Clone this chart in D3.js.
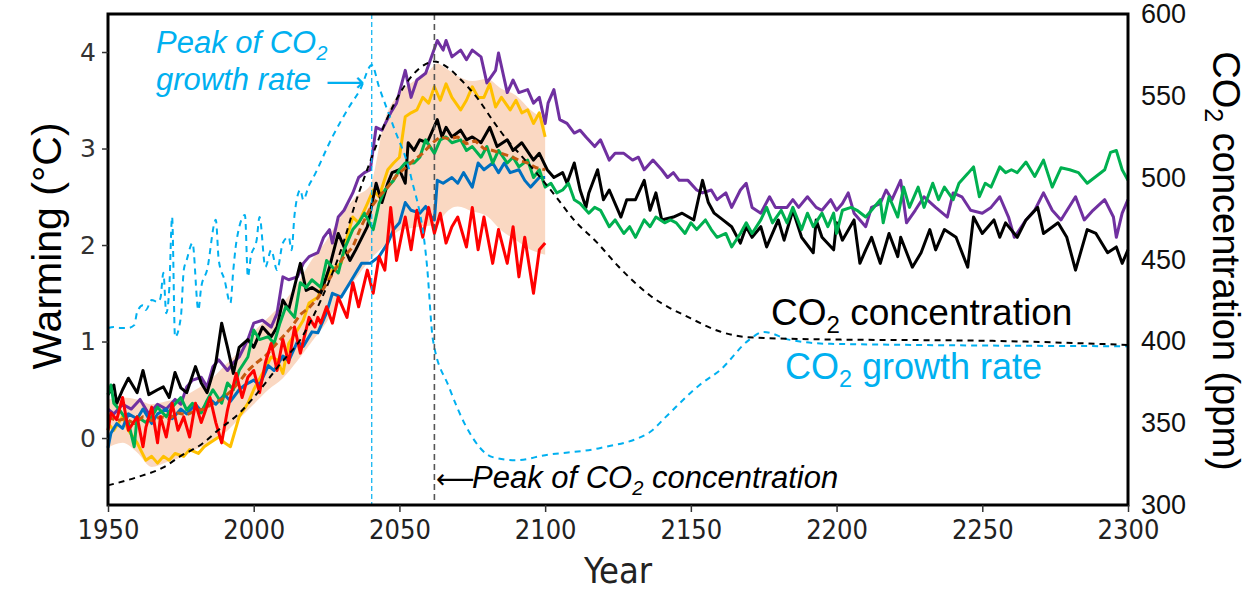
<!DOCTYPE html>
<html>
<head>
<meta charset="utf-8">
<script src="https://cdn.jsdelivr.net/npm/d3@7"></script>
<style>
  body { margin: 0; background: #fff; }
  svg { display: block; }
</style>
</head>
<body>
<svg id="chart" width="1249" height="593"></svg>
<script>
// ---- data: [year, value] ----
const blackSeries = [[1950,0.45],[1952,0.55],[1953,0.36],[1955,0.5],[1957,0.62],[1960,0.47],[1962,0.70],[1964,0.45],[1967,0.50],[1969,0.53],[1971,0.42],[1973,0.68],[1975,0.52],[1977,0.47],[1980,0.74],[1982,0.57],[1984,0.47],[1987,0.78],[1989,1.19],[1991,0.94],[1993,0.67],[1995,0.94],[1998,1.02],[2000,0.94],[2003,1.15],[2006,1.05],[2008,1.15],[2010,1.43],[2012,1.33],[2016,1.81],[2018,1.53],[2020,1.56],[2023,1.50],[2026,1.77],[2029,2.12],[2033,1.84],[2035,1.95],[2039,2.19],[2042,2.64],[2044,2.44],[2046,2.64],[2047.5,2.75],[2050,2.78],[2052,2.64],[2053,3.06],[2055,2.98],[2057,3.09],[2059.5,3.06],[2063,3.30],[2064.6,3.12],[2066,3.22],[2068,3.12],[2071,3.19],[2073,3.09],[2075,3.12],[2078,3.06],[2081,3.22],[2083.5,3.02],[2087,3.09],[2089,2.98],[2092,3.06],[2096,2.88],[2098,2.95],[2100.7,2.78],[2103,2.70],[2106,2.75],[2107.5,2.64],[2110,2.85],[2112,2.57],[2114,2.39],[2115,2.54],[2118,2.78],[2120,2.47],[2122,2.57],[2126,2.29],[2128,2.47],[2131,2.47],[2134,2.67],[2136,2.36],[2138,2.54],[2140,2.26],[2144,2.29],[2147,2.33],[2151,2.26],[2154,2.67],[2156,2.44],[2158,2.33],[2161,2.26],[2164,2.19],[2167,2.02],[2169,2.19],[2171,2.08],[2174,2.19],[2176,1.98],[2180,2.26],[2182,2.05],[2185,2.36],[2188,2.08],[2192,1.92],[2193,2.26],[2195,2.08],[2199,1.95],[2200,2.23],[2202,2.05],[2206,2.26],[2208,1.81],[2210,1.95],[2212,2.08],[2215,1.81],[2218,2.12],[2221,1.88],[2222,2.08],[2226,1.77],[2229,1.92],[2232,2.16],[2234,1.95],[2237,2.16],[2241,2.08],[2245,1.77],[2247,2.29],[2250,2.12],[2254,2.26],[2256,2.08],[2258,2.23],[2262,2.08],[2265,2.26],[2269,2.39],[2271,2.12],[2276,2.23],[2279,2.08],[2282,1.74],[2286,2.16],[2289,2.12],[2293,1.92],[2296,1.98],[2298,1.81],[2300,1.95]];

const purpleSeries = [[1950,0.30],[1952,0.25],[1955,0.35],[1958,0.30],[1961,0.40],[1964,0.25],[1967,0.35],[1970,0.30],[1973,0.40],[1975,0.35],[1977,0.53],[1979,0.60],[1982,0.63],[1984,0.53],[1986,0.74],[1988,0.81],[1991,0.70],[1993,0.78],[1995,0.84],[1998,1.02],[2000,1.19],[2003,1.22],[2006,1.15],[2008,1.29],[2010,1.67],[2012,1.64],[2015,1.67],[2017,1.81],[2019,1.88],[2022,1.92],[2024,2.08],[2026,2.16],[2027,2.02],[2029,2.29],[2031,2.36],[2034,2.54],[2036,2.70],[2038,2.75],[2040,2.78],[2042,3.22],[2044,3.19],[2047,3.37],[2049,3.47],[2052,3.81],[2054,3.53],[2056,3.71],[2059,3.78],[2061,3.95],[2063,4.12],[2065,4.02],[2066,4.12],[2068,3.95],[2071,4.02],[2073,3.92],[2075,4.02],[2078,3.95],[2080,3.68],[2083,3.81],[2084,3.99],[2087,3.58],[2089,3.71],[2091,3.58],[2094,3.61],[2096,3.47],[2098,3.53],[2100,3.26],[2101,3.47],[2103,3.61],[2105,3.30],[2107.5,3.26],[2110,3.16],[2112,3.19],[2114,3.12],[2117,3.02],[2119,3.09],[2122,2.88],[2124,2.95],[2127,2.95],[2130,2.88],[2132,2.91],[2134,2.78],[2137,2.88],[2140,2.78],[2142,2.70],[2144,2.75],[2146,2.67],[2149,2.67],[2152,2.57],[2154,2.54],[2157,2.57],[2159,2.47],[2162,2.54],[2164,2.39],[2167,2.57],[2169,2.64],[2171,2.39],[2174,2.33],[2177,2.50],[2179,2.39],[2183,2.39],[2185,2.47],[2187,2.39],[2190,2.50],[2193,2.39],[2195,2.36],[2198,2.47],[2200,2.36],[2202,2.43],[2204,2.54],[2206,2.33],[2210,2.19],[2212,2.39],[2215,2.43],[2217,2.57],[2219,2.47],[2222,2.67],[2224,2.23],[2227,2.36],[2230,2.50],[2234,2.39],[2238,2.29],[2240,2.54],[2243,2.50],[2246,2.36],[2250,2.33],[2253,2.39],[2256,2.50],[2259,2.29],[2261,2.08],[2265,2.26],[2268,2.36],[2271,2.54],[2274,2.36],[2277,2.26],[2282,2.50],[2285,2.26],[2288,2.36],[2292,2.47],[2295,2.29],[2296,2.08],[2298,2.33],[2300,2.47]];

const greenSeries = [[1950,0.45],[1951,0.55],[1952,0.36],[1954,0.29],[1957,0.16],[1959,-0.09],[1960,0.22],[1963,0.16],[1965,0.22],[1967,0.32],[1970,0.22],[1972,0.32],[1975,0.42],[1977,0.29],[1979,0.36],[1982,0.26],[1984,0.39],[1986,0.50],[1989,0.36],[1991,0.57],[1993,0.50],[1995,0.70],[1998,0.84],[2000,1.12],[2002,1.02],[2005,1.05],[2007,0.98],[2009,1.19],[2011,1.36],[2014,1.25],[2016,1.61],[2018,1.56],[2020,1.64],[2023,1.56],[2025,1.84],[2027,1.77],[2029,1.71],[2031,1.95],[2034,2.16],[2036,2.23],[2038,2.33],[2041,2.16],[2043,2.43],[2045,2.57],[2048,2.67],[2050,2.78],[2052,2.85],[2055,2.85],[2057,2.91],[2059,3.09],[2062,2.95],[2064,3.09],[2066,3.12],[2068,3.06],[2071,3.09],[2073,2.98],[2075,3.02],[2078,2.91],[2080,3.02],[2082,2.85],[2084,2.98],[2087,2.85],[2089,2.91],[2091,2.81],[2094,2.88],[2096,2.70],[2098,2.78],[2100,2.60],[2102,2.64],[2104,2.54],[2106,2.57],[2108,2.64],[2110,2.47],[2112,2.43],[2115,2.33],[2117,2.39],[2119,2.36],[2122,2.19],[2124,2.26],[2127,2.12],[2129,2.19],[2131,2.08],[2134,2.26],[2136,2.19],[2138,2.29],[2141,2.23],[2143,2.26],[2145,2.23],[2148,2.12],[2150,2.23],[2152,2.16],[2155,2.26],[2157,2.16],[2159,2.08],[2162,2.12],[2164,1.98],[2167,2.12],[2169,2.23],[2171,2.12],[2174,2.26],[2176,2.39],[2178,2.23],[2181,2.36],[2183,2.23],[2185,2.39],[2188,2.16],[2190,2.33],[2192,2.19],[2195,2.33],[2197,2.19],[2199,2.33],[2200,2.12],[2202,2.36],[2205,2.39],[2207,2.36],[2210,2.29],[2212,2.36],[2215,2.47],[2216,2.23],[2218,2.50],[2221,2.29],[2223,2.60],[2225,2.39],[2228,2.60],[2230,2.39],[2233,2.64],[2235,2.47],[2237,2.60],[2240,2.47],[2242,2.64],[2245,2.74],[2247,2.81],[2249,2.50],[2251,2.64],[2253,2.60],[2256,2.81],[2258,2.75],[2260,2.78],[2262,2.75],[2265,2.86],[2268,2.71],[2271,2.88],[2274,2.60],[2277,2.80],[2280,2.78],[2283,2.75],[2286,2.64],[2289,2.71],[2292,2.78],[2294,2.96],[2296,2.98],[2298,2.78],[2300,2.67]];

const yellowSeries = [[1950,0.15],[1952,0.08],[1955,0.22],[1957,0.08],[1960,-0.05],[1963,-0.23],[1965,-0.19],[1967,-0.26],[1969,-0.19],[1971,-0.23],[1973,-0.16],[1976,-0.19],[1978,-0.12],[1981,-0.16],[1983,-0.09],[1985,-0.05],[1988,0.01],[1990,-0.05],[1992,-0.09],[1995,0.22],[1998,0.36],[2000,0.50],[2003,0.67],[2006,0.84],[2008,0.81],[2010,0.67],[2012,0.98],[2015,1.12],[2017,1.22],[2019,1.40],[2022,1.46],[2024,1.61],[2026,1.71],[2028,1.77],[2030,1.81],[2032,2.08],[2034,2.29],[2036,2.23],[2039,2.43],[2041,2.57],[2043,2.50],[2046,2.78],[2048,2.85],[2050,2.91],[2052,3.33],[2054,3.37],[2056,3.40],[2058,3.53],[2060,3.47],[2062,3.64],[2064,3.50],[2066,3.67],[2068,3.53],[2071,3.40],[2073,3.50],[2075,3.64],[2077,3.53],[2079,3.53],[2081,3.67],[2083,3.43],[2085,3.53],[2088,3.40],[2090,3.50],[2092,3.37],[2094,3.40],[2096,3.26],[2098,3.37],[2100,3.12]];

const blueSeries = [[1950,-0.10],[1951,0.05],[1953,0.15],[1955,0.10],[1957,0.25],[1960,0.20],[1962,0.30],[1965,0.15],[1967,0.25],[1970,0.30],[1972,0.20],[1975,0.30],[1977,0.25],[1980,0.35],[1982,0.28],[1985,0.40],[1987,0.35],[1990,0.45],[1992,0.38],[1995,0.50],[1997,0.55],[2000,0.60],[2002,0.55],[2005,0.75],[2007,0.70],[2010,0.85],[2012,0.80],[2015,1.00],[2017,0.95],[2020,1.10],[2022,1.09],[2025,1.30],[2027,1.50],[2030,1.46],[2033,1.61],[2037,1.81],[2040,1.81],[2043,1.88],[2046,2.02],[2048,2.16],[2050,2.23],[2052,2.44],[2054,2.36],[2057,2.33],[2059,2.40],[2061,2.29],[2062,2.26],[2063,2.67],[2065,2.64],[2068,2.70],[2070,2.64],[2072,2.75],[2075,2.60],[2077,2.85],[2079,2.78],[2082,2.85],[2084,2.75],[2086,2.85],[2088,2.75],[2091,2.78],[2093,2.67],[2095,2.60],[2098,2.70],[2100,2.70]];

const redSeries = [[1950,0.08],[1951,0.26],[1953,0.19],[1955,0.42],[1957,0.08],[1960,0.22],[1962,-0.09],[1963,0.11],[1965,0.32],[1967,-0.05],[1968,0.22],[1970,0.01],[1972,0.36],[1974,0.08],[1976,0.22],[1978,0.01],[1980,0.36],[1982,0.16],[1985,0.42],[1987,0.16],[1989,-0.05],[1991,0.29],[1994,0.67],[1996,0.42],[1998,0.63],[2000,0.70],[2002,0.47],[2004,0.78],[2006,0.98],[2008,0.70],[2010,1.02],[2012,0.78],[2014,1.15],[2016,0.88],[2019,1.25],[2021,1.15],[2022,1.25],[2023,1.19],[2025,1.36],[2027,1.19],[2029,1.46],[2032,1.25],[2034,1.61],[2036,1.36],[2039,1.74],[2041,1.50],[2043,1.88],[2045,1.74],[2047,2.39],[2049,1.84],[2052,2.29],[2054,1.95],[2056,2.36],[2058,2.08],[2060,2.39],[2062,2.12],[2064,2.33],[2066,2.02],[2068,2.19],[2070,2.29],[2073,1.98],[2075,2.39],[2077,1.95],[2079,2.29],[2082,1.81],[2084,2.16],[2087,1.81],[2089,2.19],[2091,1.67],[2093,2.08],[2096,1.50],[2098,1.95],[2100,2.02]];

const meanSeries = [[1950,0.22],[1953,0.18],[1956,0.20],[1959,0.15],[1962,0.22],[1965,0.18],[1968,0.22],[1971,0.20],[1974,0.26],[1977,0.24],[1980,0.28],[1983,0.30],[1986,0.36],[1989,0.40],[1992,0.48],[1995,0.58],[1998,0.70],[2001,0.78],[2004,0.85],[2007,0.95],[2010,1.05],[2013,1.15],[2016,1.28],[2019,1.35],[2022,1.45],[2025,1.60],[2028,1.75],[2031,1.88],[2034,1.98],[2037,2.20],[2040,2.38],[2043,2.50],[2046,2.60],[2049,2.72],[2052,2.80],[2055,2.88],[2058,2.95],[2061,3.05],[2064,3.12],[2067,3.10],[2070,3.12],[2073,3.05],[2076,3.08],[2079,3.00],[2082,2.98],[2085,2.95],[2088,2.92],[2091,2.88],[2094,2.85],[2097,2.80],[2100,2.78]];

const bandYears = [1950,1955,1960,1965,1970,1975,1980,1985,1990,1995,2000,2005,2010,2015,2020,2025,2030,2035,2040,2045,2050,2055,2060,2063,2065,2070,2075,2080,2085,2090,2095,2100];
const bandLow   = [-0.10,-0.05,-0.15,-0.30,-0.25,-0.20,-0.12,-0.05,0.05,0.20,0.35,0.50,0.62,0.80,1.00,1.20,1.45,1.65,1.85,2.00,2.15,2.18,2.20,2.20,2.30,2.40,2.35,2.30,2.15,2.05,1.95,1.90];
const bandHigh  = [0.40,0.42,0.40,0.35,0.38,0.42,0.50,0.60,0.75,0.90,1.10,1.25,1.40,1.60,1.85,2.05,2.30,2.50,2.62,3.30,3.57,3.70,3.80,3.88,3.85,3.75,3.70,3.72,3.62,3.55,3.40,3.30];

// CO2 concentration (ppm, right axis)
const co2Conc = [[1950,312],[1960,317],[1969,323],[1975,330],[1982,337],[1988,346],[1995,356],[2002,370],[2009,386],[2016,401],[2023,425],[2030,456],[2035,485],[2040,510],[2046,537],[2051,554],[2057,567],[2062,571],[2066,568],[2071,560],[2077,548],[2082,535],[2087,523],[2092,513],[2097,503],[2103,490],[2110,474],[2118,460],[2125,446],[2136,428],[2150,414],[2160,406],[2169,402.6],[2188,401.4],[2256,400.2],[2300,397.8]];

// CO2 growth rate (ppm/yr, unlabelled scale)
const co2Growth = [[1950,0.43],[1952,0.45],[1954,0.43],[1957,0.43],[1959,0.50],[1960,0.83],[1962,1.00],[1963,0.88],[1965,1.13],[1967,1.08],[1968,1.18],[1969,1.81],[1970,0.80],[1971,1.38],[1972,3.21],[1973,0.20],[1975,0.70],[1976,1.88],[1977,2.13],[1979,2.56],[1981,0.88],[1982,1.46],[1984,1.88],[1987,3.14],[1988,2.13],[1990,1.63],[1992,1.05],[1993,1.88],[1994,2.56],[1997,3.26],[1998,1.71],[1999,2.21],[2001,2.63],[2002,3.21],[2004,1.96],[2006,2.38],[2008,1.88],[2010,2.56],[2012,2.71],[2013,2.38],[2014,3.26],[2016,3.89],[2017,3.64],[2019,4.01],[2020,4.14],[2027,5.22],[2033,6.0],[2036.5,6.40],[2040.5,7.02],[2043,6.47],[2048,5.47],[2054,4.21],[2059.5,1.96],[2061.5,0.13],[2067,-1.05],[2073,-2.06],[2082,-2.81],[2090,-2.89],[2100,-2.76],[2119,-2.58],[2136,-2.18],[2141,-1.83],[2153,-1.00],[2160,-0.63],[2170,0.13],[2175,0.33],[2184,0.13],[2198,0.03],[2300,-0.03]];

const xTicks = [1950, 2000, 2050, 2100, 2150, 2200, 2250, 2300];
const warmTicks = [0, 1, 2, 3, 4];
const ppmTicks = [300, 350, 400, 450, 500, 550, 600];
const peakGrowthYear = 2040.5;
const peakConcYear = 2062;

// ---- layout ----
const svg = d3.select('#chart');
const plotL = 108, plotR = 1128, plotT = 14, plotB = 505;
const sans = 'Arial, "Liberation Sans", sans-serif';
const dv = '"DejaVu Sans Condensed", "DejaVu Sans", sans-serif';
const cyan = '#00b0f0';

const x = d3.scaleLinear().domain([1950, 2300]).range([plotL, plotR]);
const yL = d3.scaleLinear().domain([-0.694, 4.394]).range([plotB, plotT]);
const yR = d3.scaleLinear().domain([300, 600]).range([plotB, plotT]);
const yG = d3.scaleLinear().domain([-4.01, 8.30]).range([plotB, plotT]);

// band
const band = bandYears.map((yr, i) => [yr, bandLow[i], bandHigh[i]]);
svg.append('path')
    .datum(band)
    .attr('d', d3.area().x(d => x(d[0])).y0(d => yL(d[1])).y1(d => yL(d[2])).curve(d3.curveMonotoneX))
    .attr('fill', '#f8cbad')
    .attr('opacity', 0.75);

const lineL = d3.line().x(d => x(d[0])).y(d => yL(d[1]));

const series = [
    { data: purpleSeries, color: '#7030a0' },
    { data: yellowSeries, color: '#ffc000' },
    { data: blueSeries, color: '#0070c0' },
    { data: blackSeries, color: '#000000' },
    { data: greenSeries, color: '#00b050' },
    { data: meanSeries, color: '#c55a11', dash: '7,4' },
    { data: redSeries, color: '#ff0000' }
];
series.forEach(s => {
    svg.append('path')
        .datum(s.data)
        .attr('d', lineL)
        .attr('fill', 'none')
        .attr('stroke', s.color)
        .attr('stroke-width', 3)
        .attr('stroke-linejoin', 'round')
        .attr('stroke-dasharray', s.dash || null);
});

// CO2 curves
svg.append('path')
    .datum(co2Growth)
    .attr('d', d3.line().x(d => x(d[0])).y(d => yG(d[1])).curve(d3.curveMonotoneX))
    .attr('fill', 'none')
    .attr('stroke', cyan)
    .attr('stroke-width', 2)
    .attr('stroke-dasharray', '6,5');

svg.append('path')
    .datum(co2Conc)
    .attr('d', d3.line().x(d => x(d[0])).y(d => yR(d[1])).curve(d3.curveMonotoneX))
    .attr('fill', 'none')
    .attr('stroke', '#000')
    .attr('stroke-width', 2)
    .attr('stroke-dasharray', '6,5');

// peak markers
svg.append('line')
    .attr('x1', x(peakGrowthYear)).attr('x2', x(peakGrowthYear))
    .attr('y1', plotT).attr('y2', plotB)
    .attr('stroke', cyan).attr('stroke-width', 1.2).attr('stroke-dasharray', '5,3');
svg.append('line')
    .attr('x1', x(peakConcYear)).attr('x2', x(peakConcYear))
    .attr('y1', plotT).attr('y2', plotB)
    .attr('stroke', '#555').attr('stroke-width', 1.6).attr('stroke-dasharray', '6,4');

// frame
svg.append('rect')
    .attr('x', plotL).attr('y', plotT)
    .attr('width', plotR - plotL).attr('height', plotB - plotT)
    .attr('fill', 'none').attr('stroke', '#000').attr('stroke-width', 3);

// axes
const xAxis = svg.append('g')
    .attr('transform', `translate(0,${plotB})`)
    .call(d3.axisBottom(x).tickValues(xTicks).tickFormat(d3.format('d')).tickSize(7).tickPadding(8));
xAxis.select('.domain').remove();
xAxis.selectAll('line').attr('stroke', '#333').attr('stroke-width', 1.5);
xAxis.selectAll('text').attr('font-family', dv).attr('font-size', 27).attr('fill', '#222');

const lAxis = svg.append('g')
    .attr('transform', `translate(${plotL},0)`)
    .call(d3.axisLeft(yL).tickValues(warmTicks).tickFormat(d3.format('d')).tickSize(6).tickPadding(6));
lAxis.select('.domain').remove();
lAxis.selectAll('line').attr('stroke', '#333').attr('stroke-width', 1.5);
lAxis.selectAll('text').attr('font-family', '"DejaVu Sans", sans-serif').attr('font-size', 25).attr('fill', '#333');

const rAxis = svg.append('g')
    .attr('transform', `translate(${plotR},0)`)
    .call(d3.axisRight(yR).tickValues(ppmTicks).tickSize(0).tickPadding(13));
rAxis.select('.domain').remove();
rAxis.selectAll('text').attr('font-family', sans).attr('font-size', 27).attr('fill', '#111').attr('dy', '0.32em');

// axis titles
svg.append('text')
    .attr('transform', 'translate(61,246) rotate(-90)')
    .attr('text-anchor', 'middle')
    .attr('font-family', sans).attr('font-size', 41)
    .text('Warming (°C)');

svg.append('text')
    .attr('x', 618).attr('y', 583)
    .attr('text-anchor', 'middle')
    .attr('font-family', dv).attr('font-size', 36).attr('fill', '#222')
    .text('Year');

const rTitle = svg.append('text')
    .attr('transform', 'translate(1213,261) rotate(90)')
    .attr('text-anchor', 'middle')
    .attr('font-family', sans).attr('font-size', 38);
rTitle.append('tspan').text('CO');
rTitle.append('tspan').attr('font-size', 25).attr('dy', 8).text('2');
rTitle.append('tspan').attr('dy', -8).text(' concentration (ppm)');

// annotations
function subText(xp, yp, size, color, style, before, after) {
    const t = svg.append('text')
        .attr('x', xp).attr('y', yp)
        .attr('font-family', sans).attr('font-size', size)
        .attr('font-style', style).attr('fill', color);
    t.append('tspan').text(before);
    t.append('tspan').attr('font-size', size * 0.65).attr('dy', size * 0.22).text('2');
    t.append('tspan').attr('dy', -size * 0.22).text(after);
    return t;
}

function arrow(xp, yp, color, glyph) {
    svg.append('text')
        .attr('x', xp).attr('y', yp)
        .attr('font-family', '"DejaVu Sans", sans-serif').attr('font-size', 27)
        .attr('fill', color)
        .text(glyph);
}

subText(156, 53, 31, cyan, 'italic', 'Peak of CO', '');
svg.append('text')
    .attr('x', 156).attr('y', 90)
    .attr('font-family', sans).attr('font-size', 31).attr('font-style', 'italic').attr('fill', cyan)
    .text('growth rate');
arrow(326, 91, cyan, '\u27F6');

arrow(436, 488, '#000', '\u27F5');
subText(472, 488, 31, '#000', 'italic', 'Peak of CO', ' concentration');
subText(771, 325, 37, '#000', 'normal', 'CO', ' concentration');
subText(785, 379, 36, cyan, 'normal', 'CO', ' growth rate');
</script>
</body>
</html>
